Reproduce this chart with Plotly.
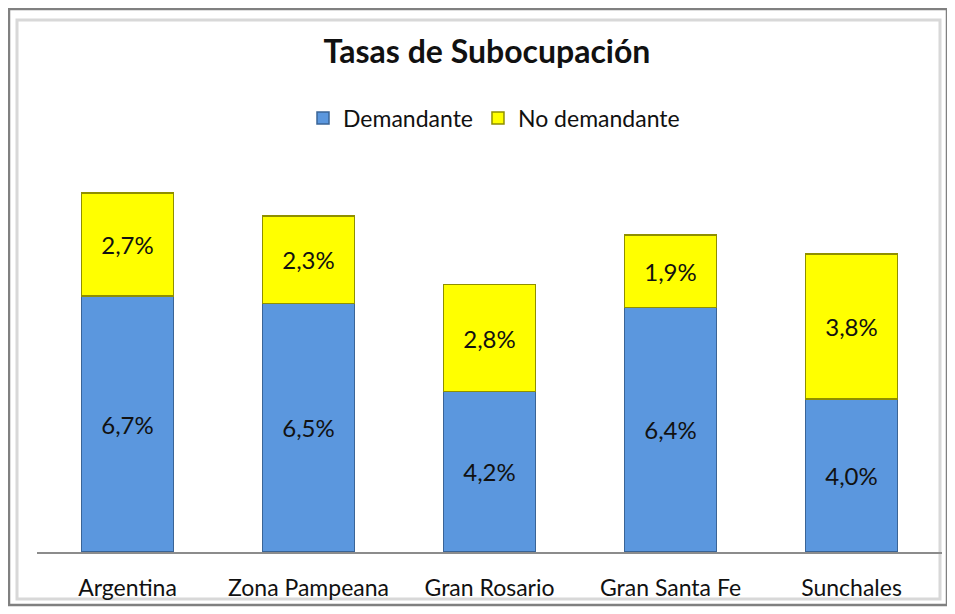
import plotly.graph_objects as go

categories = ["Argentina", "Zona Pampeana", "Gran Rosario", "Gran Santa Fe", "Sunchales"]
demandante = [6.7, 6.5, 4.2, 6.4, 4.0]
no_demandante = [2.7, 2.3, 2.8, 1.9, 3.8]

def fmt(v):
    return f"{v:.1f}%".replace(".", ",")

# page offset from browser default body margin
OFF = 8
W, H = 955 - OFF, 614 - OFF
# plot area in page pixels: x 37..942, y 170..552
L = 37 - OFF
R = W - (942 - OFF)
T = 170 - OFF
B = H - (552 - OFF)
pw, ph = W - L - R, H - T - B

def px_x(px):
    return (px - OFF - L) / pw

def px_y(py):
    return (H - B - (py - OFF)) / ph

font_family = "Lato, 'Open Sans', sans-serif"

fig = go.Figure()
fig.add_trace(go.Bar(
    x=categories, y=demandante, name="Demandante",
    marker=dict(color="#5B97DE", line=dict(color="#3A6496", width=1.5)),
    text=[fmt(v) for v in demandante], textposition="inside",
    insidetextanchor="middle", textfont=dict(size=24, color="#111111", family=font_family),
))
fig.add_trace(go.Bar(
    x=categories, y=no_demandante, name="No demandante",
    marker=dict(color="#FFFF00", line=dict(color="#8F8F00", width=1.5)),
    text=[fmt(v) for v in no_demandante], textposition="inside",
    insidetextanchor="middle", textfont=dict(size=24, color="#111111", family=font_family),
))

shapes = [
    dict(type="rect", xref="paper", yref="paper",
         x0=px_x(9), x1=px_x(947), y0=px_y(605), y1=px_y(9),
         line=dict(color="#808080", width=2.5), fillcolor="rgba(0,0,0,0)", layer="below"),
    dict(type="rect", xref="paper", yref="paper",
         x0=px_x(17), x1=px_x(940), y0=px_y(599), y1=px_y(20),
         line=dict(color="#D8D8D8", width=3), fillcolor="rgba(0,0,0,0)", layer="below"),
]

fig.update_layout(
    width=W, height=H,
    margin=dict(l=L, r=R, t=T, b=B),
    paper_bgcolor="white", plot_bgcolor="white",
    barmode="stack", bargap=0.49,
    showlegend=True,
    title=dict(text="<b>Tasas de Subocupación</b>", x=(487 - OFF) / W, xanchor="center", xref="container",
               y=1 - (52 - OFF) / H, yanchor="middle",
               font=dict(size=32, color="#111111", family=font_family)),
    legend=dict(orientation="h", x=px_x(494), xanchor="center", y=px_y(118), yanchor="middle",
                font=dict(size=23, color="#111111", family=font_family),
                traceorder="normal", bgcolor="rgba(0,0,0,0)"),
    xaxis=dict(showline=True, linecolor="#8C8C8C", linewidth=2, ticks="",
               tickfont=dict(size=23, color="#111111", family=font_family),
               ticklabelstandoff=14, showgrid=False),
    yaxis=dict(range=[0, 10], visible=False, showgrid=False, zeroline=False),
    shapes=shapes,
    uniformtext=dict(mode="show", minsize=10),
)

fig.write_html("out.html")
